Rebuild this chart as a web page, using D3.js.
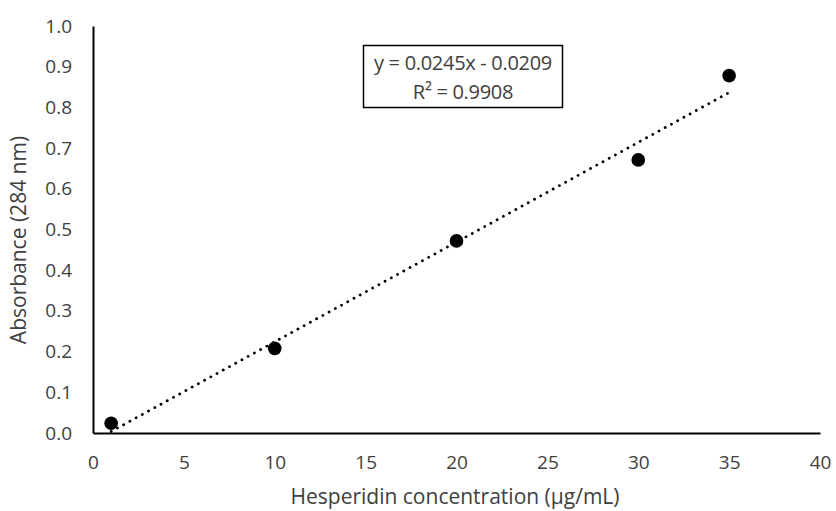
<!DOCTYPE html>
<html><head><meta charset="utf-8">
<script src="https://cdn.jsdelivr.net/npm/d3@7"></script>
<style>
body{margin:0;background:#fff;}
text{font-family:"Open Sans",sans-serif;fill:#404040;}
</style></head>
<body>
<svg id="chart" width="836" height="511"></svg>
<script>
const concentrations = [1, 10, 20, 30, 35];
const absorbances = [0.024, 0.208, 0.472, 0.671, 0.878];
const xTicks = [0, 5, 10, 15, 20, 25, 30, 35, 40];
const yTicks = [0, 0.1, 0.2, 0.3, 0.4, 0.5, 0.6, 0.7, 0.8, 0.9, 1.0];
const slope = 0.0245, intercept = -0.0209;
const trendRange = [1, 35];
const eqLines = ["y = 0.0245x - 0.0209", "R² = 0.9908"];
const xTitle = "Hesperidin concentration (µg/mL)";
const yTitle = "Absorbance (284 nm)";

const svg = d3.select("#chart");
const m = {left:93, right:820, top:26, bottom:433};
const x = d3.scaleLinear().domain([0,40]).range([m.left, m.right]);
const y = d3.scaleLinear().domain([0,1]).range([m.bottom, m.top]);
const FONT = "'Open Sans',sans-serif";

// axes
const xAxis = svg.append("g").attr("transform",`translate(0,${m.bottom})`)
  .call(d3.axisBottom(x).tickValues(xTicks).tickSize(0).tickPadding(23).tickFormat(d3.format("d")));
const yAxis = svg.append("g").attr("transform",`translate(${m.left},0)`)
  .call(d3.axisLeft(y).tickValues(yTicks).tickSize(0).tickPadding(21).tickFormat(d3.format(".1f")));
[xAxis,yAxis].forEach(a=>{
  a.select(".domain").attr("stroke","#000").attr("stroke-width",2);
  a.selectAll("text").style("font-size","19px").style("font-family",FONT).attr("fill","#404040");
});

// trendline
svg.append("line")
  .attr("x1",x(trendRange[0])).attr("y1",y(slope*trendRange[0]+intercept))
  .attr("x2",x(trendRange[1])).attr("y2",y(slope*trendRange[1]+intercept))
  .attr("stroke","#000").attr("stroke-width",2.8)
  .attr("stroke-linecap","round").attr("stroke-dasharray","0.1 7");

// points
svg.selectAll("circle.pt").data(concentrations).join("circle")
  .attr("class","pt")
  .attr("cx",d=>x(d)).attr("cy",(d,i)=>y(absorbances[i])).attr("r",6.8).attr("fill","#000");

// equation box
svg.append("rect").attr("x",363.5).attr("y",45.5).attr("width",199).attr("height",62)
  .attr("fill","#fff").attr("stroke","#000").attr("stroke-width",1.5);
svg.selectAll("text.eq").data(eqLines).join("text").attr("class","eq")
  .attr("x",463).attr("y",(d,i)=>70+i*29).attr("text-anchor","middle")
  .style("font-size","20px").style("letter-spacing","-0.3px").text(d=>d);

// titles
svg.append("text").attr("x",455).attr("y",504).attr("text-anchor","middle")
  .style("font-size","21px").text(xTitle);
svg.append("text").attr("transform","translate(26,240) rotate(-90)").attr("text-anchor","middle")
  .style("font-size","21px").text(yTitle);
</script>
</body></html>
